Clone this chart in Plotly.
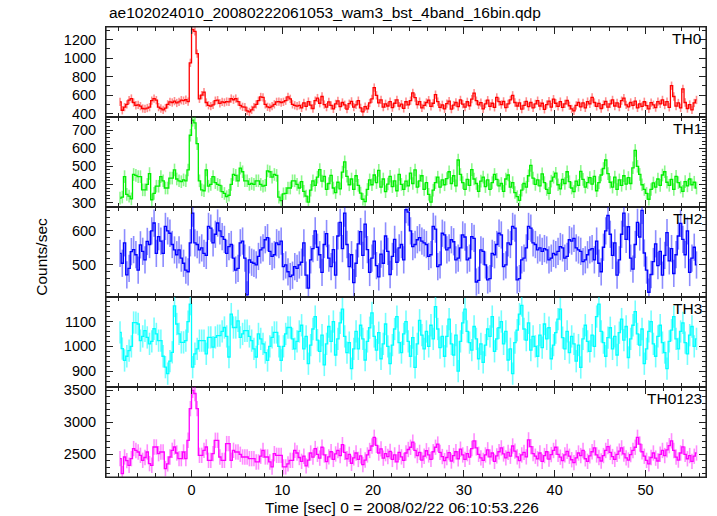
import numpy as np
import plotly.graph_objects as go
from plotly.subplots import make_subplots

# ---- data (count rates, 0.25 s bins starting at T_START) ----
T_START = -8.0
DT = 0.25

TH0 = [
    527, 436, 470, 500, 545, 563, 520, 490,
    495, 480, 455, 450, 460, 470, 540, 563,
    545, 470, 455, 440, 460, 500, 527, 520,
    535, 515, 527, 545, 540, 550, 530, 950,
    1310, 1290, 1050, 560, 600, 633, 520, 490,
    480, 495, 540, 545, 510, 527, 520, 530,
    527, 563, 550, 563, 530, 490, 473, 470,
    430, 418, 440, 470, 500, 540, 580, 575,
    500, 473, 465, 480, 500, 527, 530, 520,
    527, 540, 580, 560, 500, 490, 480, 490,
    462, 515, 478, 530, 492, 455, 540, 568,
    512, 585, 498, 470, 526, 488, 452, 505,
    538, 476, 520, 495, 448, 507, 532, 470,
    495, 540, 462, 418, 475, 452, 515, 560,
    682, 598, 515, 548, 470, 506, 482, 530,
    465, 512, 548, 480, 502, 456, 528, 495,
    540, 625, 572, 498, 530, 462, 488, 520,
    545, 478, 512, 605, 530, 468, 495, 452,
    508, 535, 448, 492, 520, 476, 548, 502,
    470, 528, 485, 556, 622, 540, 495, 518,
    452, 505, 545, 478, 512, 468, 575, 530,
    498, 532, 465, 505, 548, 598, 520, 482,
    515, 448, 490, 532, 475, 520, 462, 505,
    540, 482, 512, 446, 498, 535, 470, 556,
    512, 478, 530, 468, 505, 542, 485, 450,
    430, 488, 520, 472, 515, 462, 530, 505,
    575, 520, 478, 510, 455, 498, 532, 470,
    505, 548, 482, 515, 470, 540, 568, 495,
    472, 520, 490, 535, 462, 505, 478, 528,
    486, 452, 518, 495, 465, 530, 505, 548,
    492, 530, 468, 702, 585, 480, 515, 462,
    668, 520, 455, 498, 440, 515, 548,
]

TH1 = [
    324, 330, 443, 345, 335, 320, 455, 450,
    443, 443, 370, 370, 400, 460, 315, 350,
    390, 390, 443, 420, 380, 380, 435, 435,
    480, 430, 420, 415, 425, 420, 480, 672,
    755, 740, 626, 420, 370, 365, 480, 390,
    400, 443, 410, 400, 395, 360, 350, 332,
    340, 400, 455, 450, 420, 490, 470, 420,
    420, 400, 405, 400, 420, 420, 400, 390,
    395, 475, 470, 440, 455, 450, 330, 310,
    348, 350, 380, 380, 420, 420, 400, 380,
    415, 362, 335, 302, 368, 420, 395, 440,
    482, 418, 445, 372, 405, 450, 380, 355,
    412, 375, 468, 525, 445, 398, 430, 372,
    448, 395, 352, 318, 305, 372, 425, 398,
    452, 410, 478, 385, 430, 360, 402, 445,
    388, 420, 365, 455, 400, 372, 418, 392,
    462, 405, 480, 385, 420, 448, 372, 410,
    345, 302, 368, 410, 440, 385, 425, 398,
    432, 470, 405, 448, 392, 535, 455, 410,
    372, 428, 395, 482, 430, 405, 362, 418,
    440, 388, 425, 372, 410, 455, 428, 392,
    405, 362, 430, 452, 385, 410, 355, 332,
    312, 368, 405, 385, 448, 505, 435, 400,
    425, 392, 458, 410, 372, 350, 418, 440,
    462, 398, 375, 428, 405, 470, 415, 380,
    360, 418, 395, 472, 428, 385, 410, 438,
    402, 445, 365, 410, 452, 488, 535, 460,
    412, 385, 440, 372, 425, 395, 448, 402,
    438, 405, 492, 588, 500, 455, 398, 372,
    350, 318, 372, 408, 385, 430, 395, 452,
    470, 412, 395, 428, 372, 445, 410, 385,
    362, 415, 392, 430, 398, 412, 380,
]

TH2 = [
    534, 505, 565, 471, 490, 539, 545, 530,
    485, 559, 540, 515, 569, 560, 600, 623,
    534, 583, 570, 534, 613, 600, 593, 560,
    544, 530, 544, 520, 505, 485, 480, 565,
    652, 565, 560, 544, 550, 534, 528, 613,
    608, 565, 590, 623, 600, 583, 575, 534,
    554, 560, 520, 485, 490, 565, 570, 520,
    412, 515, 508, 505, 500, 525, 544, 550,
    574, 580, 540, 525, 530, 565, 560, 570,
    495, 500, 480, 466, 470, 495, 490, 500,
    508, 565, 470, 432, 515, 548, 600, 552,
    530, 478, 560, 592, 520, 495, 545, 470,
    585, 625, 548, 652, 560, 495, 530, 448,
    505, 562, 598, 528, 620, 545, 478, 520,
    570, 498, 465, 532, 505, 585, 540, 472,
    525, 575, 508, 550, 560, 515, 662, 655,
    600, 554, 560, 574, 580, 570, 565, 560,
    525, 530, 613, 605, 495, 500, 593, 588,
    544, 550, 574, 568, 515, 520, 550, 588,
    582, 515, 520, 583, 578, 450, 455, 544,
    540, 500, 456, 460, 534, 530, 560, 593,
    588, 495, 500, 565, 560, 613, 608, 456,
    460, 515, 520, 550, 613, 608, 565, 560,
    544, 550, 540, 548, 544, 515, 520, 534,
    530, 540, 554, 550, 520, 525, 574, 570,
    578, 550, 544, 540, 510, 515, 530, 544,
    548, 515, 570, 505, 480, 552, 600, 645,
    590, 528, 565, 470, 515, 590, 652, 575,
    612, 520, 488, 560, 625, 582, 660, 535,
    485, 420, 472, 510, 562, 498, 540, 470,
    528, 595, 512, 548, 475, 530, 585, 622,
    575, 530, 600, 478, 520, 552, 500,
]

TH3 = [
    1056, 991, 943, 960, 983, 1000, 1096, 1096,
    1090, 1023, 1040, 1063, 1036, 1010, 1020, 1071,
    1050, 1023, 1023, 960, 916, 890, 940, 976,
    1163, 1090, 1050, 1016, 1016, 1023, 1100, 1170,
    916, 970, 990, 1023, 1023, 1023, 970, 1036,
    1036, 997, 1036, 1043, 1043, 1060, 1076, 1040,
    957, 1130, 1076, 1076, 1103, 1036, 1050, 1063,
    1063, 1040, 1023, 990, 957, 1050, 1030, 1010,
    975, 943, 1000, 1036, 1056, 1056, 1000, 943,
    1000, 1050, 1076, 1076, 1030, 990, 1020, 1060,
    1085, 990, 1040, 930, 1005, 1070, 1120, 1025,
    980, 1045, 925, 1010, 1080, 1020, 1100, 965,
    1030, 1095, 1150, 1040, 975, 1015, 910, 990,
    1060, 990, 1085, 1030, 945, 1020, 1075, 1135,
    1040, 985, 1055, 950, 1010, 1090, 1000, 930,
    1005, 1070, 1120, 1015, 975, 1050, 1100, 1020,
    960, 1035, 915, 1010, 1105, 1045, 990, 1060,
    1000, 1085, 1030, 1160, 1070, 995, 1040, 960,
    1040, 1110, 1010, 965, 1045, 900, 1020, 1095,
    1150, 1060, 1015, 985, 1080, 1030, 950, 1010,
    935, 1005, 1070, 1040, 1120, 980, 1030, 1075,
    1100, 1010, 1060, 945, 990, 890, 1015, 1065,
    1130, 1165, 1070, 1025, 1095, 985, 1040, 1000,
    960, 1045, 995, 1090, 1030, 1075, 950, 1005,
    1055, 1110, 1150, 1035, 990, 1060, 975, 1040,
    1010, 940, 1005, 915, 1030, 1085, 1020, 980,
    1045, 1000, 1120, 1170, 1060, 1015, 960, 1035,
    1075, 990, 1040, 965, 1055, 1110, 1025, 1080,
    955, 1030, 1085, 1140, 1050, 1005, 1070, 930,
    990, 1060, 1100, 1010, 960, 1040, 1085, 1015,
    975, 910, 1020, 1065, 1120, 1030, 990, 1060,
    1095, 1015, 970, 1045, 1080, 1000, 1030,
]

TH0123 = [
    2432, 2198, 2458, 2400, 2328, 2432, 2589, 2560,
    2536, 2484, 2406, 2450, 2536, 2354, 2328, 2614,
    2614, 2510, 2536, 2536, 2276, 2350, 2458, 2562,
    2614, 2520, 2432, 2432, 2536, 2432, 2719, 3214,
    3500, 3450, 3214, 2484, 2484, 2562, 2614, 2406,
    2406, 2510, 2719, 2719, 2458, 2406, 2406, 2667,
    2667, 2406, 2562, 2536, 2536, 2500, 2458, 2458,
    2458, 2432, 2432, 2432, 2380, 2380, 2470, 2562,
    2458, 2458, 2380, 2302, 2510, 2484, 2484, 2484,
    2302, 2302, 2350, 2406, 2406, 2562, 2520, 2450,
    2390, 2470, 2320, 2410, 2520, 2455, 2590, 2500,
    2440, 2610, 2490, 2385, 2460, 2540, 2420, 2505,
    2560, 2480, 2650, 2530, 2430, 2500, 2360, 2445,
    2520, 2420, 2475, 2340, 2410, 2490, 2560, 2630,
    2765, 2640, 2520, 2585, 2440, 2510, 2465, 2545,
    2420, 2490, 2380, 2530, 2460, 2405, 2520, 2575,
    2610, 2690, 2560, 2480, 2530, 2410, 2470, 2555,
    2490, 2420, 2540, 2610, 2660, 2530, 2465, 2400,
    2450, 2525, 2395, 2480, 2540, 2430, 2580, 2490,
    2420, 2510, 2455, 2590, 2710, 2600, 2500, 2445,
    2405, 2490, 2570, 2460, 2520, 2390, 2475, 2540,
    2600, 2505, 2445, 2530, 2470, 2630, 2550, 2460,
    2400, 2490, 2530, 2460, 2725, 2620, 2510, 2470,
    2430, 2520, 2390, 2480, 2540, 2425, 2495, 2560,
    2610, 2500, 2455, 2400, 2490, 2545, 2470, 2415,
    2370, 2445, 2520, 2480, 2560, 2430, 2390, 2475,
    2540, 2600, 2490, 2450, 2395, 2480, 2560, 2620,
    2530, 2465, 2420, 2500, 2550, 2600, 2505, 2445,
    2410, 2495, 2560, 2610, 2765, 2660, 2540, 2470,
    2405, 2350, 2450, 2520, 2440, 2395, 2500, 2560,
    2480, 2570, 2635, 2710, 2560, 2455, 2410, 2520,
    2615, 2500, 2430, 2480, 2390, 2470, 2520,
]

PANEL_NAMES = ["TH0", "TH1", "TH2", "TH3", "TH0123"]
SERIES = [TH0, TH1, TH2, TH3, TH0123]
ERRORS = [45, 35, 40, 45, 120]          # typical 1-sigma error per band
COLORS = ["#ff0000", "#00ee00", "#0000ff", "#00ffff", "#ff00ff"]
ERR_COLORS = ["rgba(255,0,0,0.45)", "rgba(0,238,0,0.45)", "rgba(0,0,255,0.45)",
              "rgba(0,255,255,0.55)", "rgba(255,0,255,0.45)"]
Y_RANGES = [[363, 1338], [275, 773], [406, 670], [836, 1199], [2145, 3552]]
Y_MAJOR = [200, 100, 100, 100, 500]
Y_MINOR = [100, 20, 20, 20, 100]
X_RANGE = [-9.42, 56.67]

TITLE = "ae102024010_20080222061053_wam3_bst_4band_16bin.qdp"
XLABEL = "Time [sec] 0 = 2008/02/22 06:10:53.226"
YLABEL = "Counts/sec"

FONT = "Liberation Sans, Arial, Helvetica, sans-serif"
AX = "#222222"

fig = make_subplots(rows=5, cols=1, shared_xaxes=True, vertical_spacing=0)

for i, (vals, name) in enumerate(zip(SERIES, PANEL_NAMES)):
    t = T_START + DT * (np.arange(len(vals)) + 0.5)
    fig.add_trace(go.Scatter(
        x=t, y=vals, mode="lines",
        line=dict(shape="hvh", color=COLORS[i], width=1.3),
        error_y=dict(type="constant", value=ERRORS[i], color=ERR_COLORS[i],
                     thickness=1.6, width=0),
        showlegend=False, hoverinfo="skip"), row=i + 1, col=1)

    fig.update_yaxes(row=i + 1, col=1, range=Y_RANGES[i], dtick=Y_MAJOR[i], tick0=0,
                     showline=True, linecolor=AX, linewidth=1, mirror="allticks",
                     ticks="inside", ticklen=7, tickwidth=1, tickcolor=AX,
                     minor=dict(dtick=Y_MINOR[i], ticks="inside", ticklen=4,
                                tickcolor=AX, tickwidth=1),
                     showgrid=False, zeroline=False,
                     tickfont=dict(family=FONT, size=14.5, color="black"),
                     ticklabelstandoff=6)
    fig.update_xaxes(row=i + 1, col=1, range=X_RANGE, dtick=10, tick0=0,
                     showline=True, linecolor=AX, linewidth=1, mirror="allticks",
                     ticks="inside", ticklen=7, tickwidth=1, tickcolor=AX,
                     minor=dict(dtick=2, ticks="inside", ticklen=4,
                                tickcolor=AX, tickwidth=1),
                     showgrid=False, zeroline=False,
                     tickfont=dict(family=FONT, size=14.5, color="black"))

annotations = []
n = len(PANEL_NAMES)
for i, name in enumerate(PANEL_NAMES):
    top = 1 - i / n
    annotations.append(dict(text=name, x=1, y=top, xref="paper", yref="paper",
                            xanchor="right", yanchor="top", xshift=-2, yshift=-1,
                            showarrow=False,
                            font=dict(family=FONT, size=15.5, color="black")))
annotations.append(dict(text=TITLE, x=0, y=1.0333, xref="paper", yref="paper",
                        xanchor="left", yanchor="middle", xshift=1, showarrow=False,
                        font=dict(family=FONT, size=15.5, color="black")))
annotations.append(dict(text=XLABEL, x=0.493, y=-0.0667, xref="paper", yref="paper",
                        xanchor="center", yanchor="middle", showarrow=False,
                        font=dict(family=FONT, size=15.5, color="black")))
annotations.append(dict(text=YLABEL, x=-0.107, y=0.489, xref="paper", yref="paper",
                        xanchor="center", yanchor="middle", textangle=-90,
                        showarrow=False,
                        font=dict(family=FONT, size=15.5, color="black")))

fig.update_layout(
    width=717, height=516,
    margin=dict(l=106, r=11, t=27, b=39),
    paper_bgcolor="white", plot_bgcolor="white",
    annotations=annotations,
    shapes=[dict(type="rect", xref="paper", yref="paper", x0=0, x1=1, y0=0, y1=1,
                 line=dict(color=AX, width=1.2), layer="above")],
    font=dict(family=FONT, color="black"),
)

fig.write_html("out.html", config={"displayModeBar": False})

# remove the default page margin so the figure sits at the window's corner
with open("out.html", encoding="utf-8") as f:
    html = f.read()
html = html.replace("<head>", "<head><style>html,body{margin:0;padding:0;overflow:hidden;}</style>", 1)
with open("out.html", "w", encoding="utf-8") as f:
    f.write(html)
